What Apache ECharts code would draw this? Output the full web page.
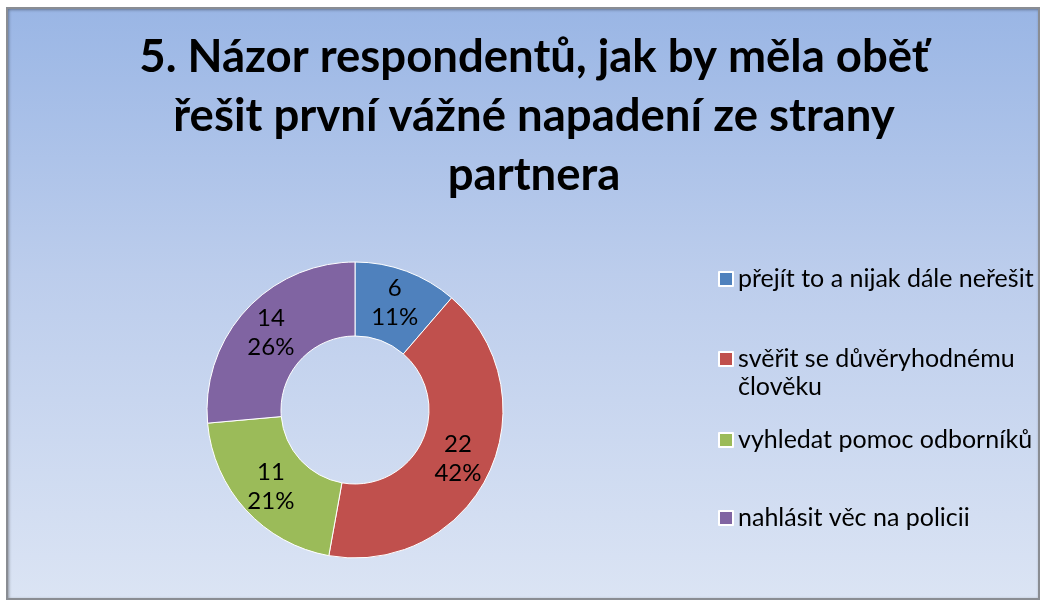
<!DOCTYPE html>
<html>
<head>
<meta charset="utf-8">
<script src="https://cdn.jsdelivr.net/npm/echarts@6/dist/echarts.min.js"></script>
<style>
  html, body { margin: 0; padding: 0; background: #ffffff; }
  .frame {
    position: absolute;
    left: 6px;
    top: 7px;
    width: 1030px;
    height: 589px;
    border: 2px solid #8a8d93;
    box-shadow: 1px 1px 3px rgba(0, 0, 0, 0.35) inset;
    background: linear-gradient(to bottom, #9ab6e5 0%, #bccdec 45%, #dbe4f4 100%);
  }
  #chart {
    position: absolute;
    left: 0;
    top: 0;
    width: 1044px;
    height: 605px;
  }
</style>
</head>
<body>
<div class="frame"></div>
<div id="chart"></div>
<script>
const titleText = '5. Názor respondentů, jak by měla oběť\nřešit první vážné napadení ze strany\npartnera';
const categories = [
  'přejít to a nijak dále neřešit',
  'svěřit se důvěryhodnému člověku',
  'vyhledat pomoc odborníků',
  'nahlásit věc na policii',
];
const counts = [6, 22, 11, 14];
const colors = ['#4f81bd', '#c0504d', '#9bbb59', '#8064a2'];

// legend rows sit at uneven heights in the original, so one legend per item
const legendTops = [260, 312, 421, 499];

const chart = echarts.init(document.getElementById('chart'));

const legends = categories.map((name, i) => ({
  orient: 'vertical',
  left: 713,
  top: legendTops[i],
  icon: 'rect',
  itemWidth: 14,
  itemHeight: 14,
  data: [name],
  formatter(n) {
    if (n === 'svěřit se důvěryhodnému člověku') {
      // leading blank line keeps the square level with the first line
      return '\nsvěřit se důvěryhodnému\nčlověku';
    }
    return n;
  },
  textStyle: {
    fontFamily: 'Lato',
    fontSize: 25,
    lineHeight: 28,
    color: '#000',
  },
}));

const option = {
  backgroundColor: 'transparent',
  color: colors,
  // title sits a little right of the canvas centre, so it is placed as graphic text
  graphic: [
    {
      type: 'text',
      x: 534,
      y: 28,
      silent: true,
      style: {
        text: titleText,
        align: 'center',
        verticalAlign: 'top',
        fontFamily: 'Lato',
        fontWeight: 'bold',
        fontSize: 45.5,
        lineHeight: 59,
        fill: '#000',
      },
    },
  ],
  legend: legends,
  series: [
    {
      type: 'pie',
      center: [355, 410],
      radius: [74, 148],
      startAngle: 90,
      clockwise: true,
      percentPrecision: 0,
      animation: false,
      itemStyle: {
        borderColor: '#ffffff',
        borderWidth: 1,
      },
      label: {
        show: true,
        position: 'inside',
        formatter: '{c}\n{d}%',
        fontFamily: 'Lato',
        fontSize: 24,
        lineHeight: 29,
        color: '#000',
      },
      labelLine: { show: false },
      emphasis: { disabled: true },
      data: categories.map((name, i) => ({ name: name, value: counts[i] })),
    },
  ],
};

chart.setOption(option);
</script>
</body>
</html>
